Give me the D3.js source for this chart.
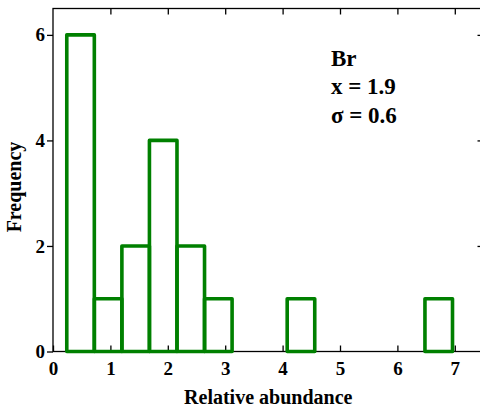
<!DOCTYPE html>
<html>
<head>
<meta charset="utf-8">
<script src="https://cdn.jsdelivr.net/npm/d3@7"></script>
<style>
  html, body { margin: 0; padding: 0; background: #fff; }
  svg { display: block; }
  text { font-family: "Liberation Serif", "Times New Roman", serif; font-weight: bold; fill: #000; }
</style>
</head>
<body>
<svg id="chart" width="480" height="416"></svg>
<script>
// Data
const binStarts = [0.24, 0.72, 1.20, 1.68, 2.16, 2.64, 4.08, 6.48];
const counts    = [6, 1, 2, 4, 2, 1, 1, 1];
const binWidth  = 0.48;
const xTicks = [0, 1, 2, 3, 4, 5, 6, 7];
const yTicks = [0, 2, 4, 6];
const annotation = ["Br", "x = 1.9", "σ = 0.6"];
const xTitle = "Relative abundance";
const yTitle = "Frequency";

const svg = d3.select("#chart");
const mLeft = 53, mTop = 8.5, mRight = 483.5, mBottom = 351.5;

const x = d3.scaleLinear().domain([0, 7.5]).range([mLeft, mRight]);
const y = d3.scaleLinear().domain([0, 6.5]).range([mBottom, mTop]);

// frame
svg.append("rect")
  .attr("x", mLeft).attr("y", mTop)
  .attr("width", mRight - mLeft).attr("height", mBottom - mTop)
  .attr("fill", "none").attr("stroke", "#000").attr("stroke-width", 1.3);

const gx = svg.append("g").attr("transform", `translate(0,${mBottom})`)
  .call(d3.axisBottom(x).tickValues(xTicks).tickSize(-6).tickPadding(10).tickFormat(d3.format("d")));
const gt = svg.append("g").attr("transform", `translate(0,${mTop})`)
  .call(d3.axisTop(x).tickValues(xTicks.slice(1)).tickSize(-6).tickFormat(""));
const gy = svg.append("g").attr("transform", `translate(${mLeft},0)`)
  .call(d3.axisLeft(y).tickValues(yTicks).tickSize(6).tickPadding(2).tickFormat(d3.format("d")));
const gr = svg.append("g").attr("transform", `translate(${mRight},0)`)
  .call(d3.axisRight(y).tickValues(yTicks.slice(1)).tickSize(-6).tickFormat(""));

[gx, gt, gy, gr].forEach(g => {
  g.select(".domain").remove();
  g.selectAll(".tick line").attr("stroke", "#000").attr("stroke-width", 1.3);
  g.selectAll("text").attr("font-family", "Liberation Serif, serif")
    .attr("font-weight", "bold").attr("font-size", 19).attr("fill", "#000");
});

// histogram bars
svg.append("g").selectAll("rect")
  .data(binStarts.map((s, i) => ({ s, c: counts[i] })))
  .join("rect")
  .attr("x", d => x(d.s))
  .attr("width", d => x(d.s + binWidth) - x(d.s))
  .attr("y", d => y(d.c))
  .attr("height", d => y(0) - y(d.c))
  .attr("fill", "none")
  .attr("stroke", "#008000")
  .attr("stroke-width", 3.6)
  .attr("stroke-linejoin", "round");

// annotation
const ann = svg.append("text").attr("x", 331).attr("font-size", 23);
annotation.forEach((t, i) => {
  ann.append("tspan").attr("x", 331).attr("y", 65.7 + i * 28.5).text(t);
});

// axis titles
svg.append("text")
  .attr("x", (mLeft + mRight) / 2).attr("y", 404)
  .attr("text-anchor", "middle").attr("font-size", 20)
  .text(xTitle);

svg.append("text")
  .attr("transform", `translate(21,187) rotate(-90)`)
  .attr("text-anchor", "middle").attr("font-size", 20)
  .text(yTitle);
</script>
</body>
</html>
